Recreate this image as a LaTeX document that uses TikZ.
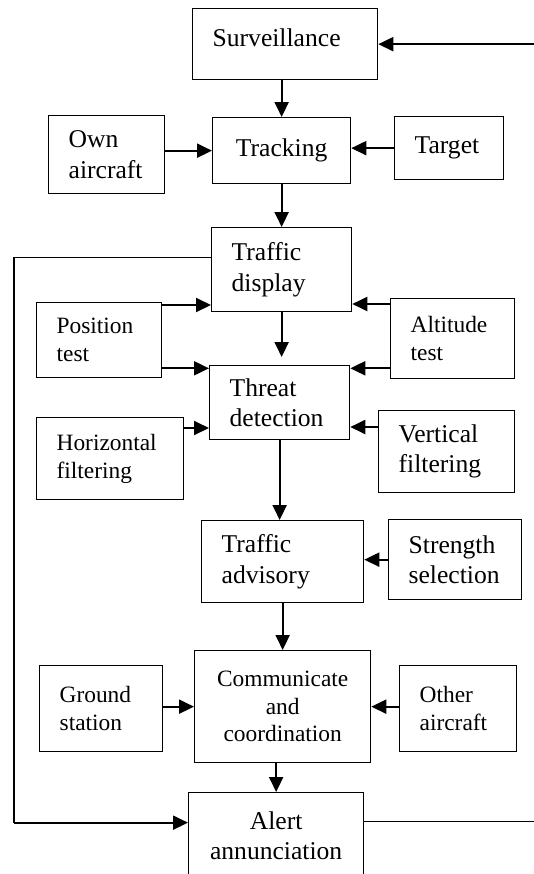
\documentclass[tikz,border=0pt]{standalone}
\usepackage{fontspec}
\setmainfont{Liberation Serif}
\usetikzlibrary{arrows.meta, calc}

\begin{document}
\begin{tikzpicture}[x=0.5pt, y=-0.5pt,
		box/.style={draw, line width=0.65pt, anchor=north west, inner xsep=10pt, inner ysep=0pt, align=left},
		big/.style={font=\fontsize{12.8}{15.2}\selectfont},
		small/.style={font=\fontsize{11.7}{13.8}\selectfont},
		arr/.style={line width=1pt, -{Triangle[length=7.5pt,width=7pt]}},
		wire/.style={line width=0.65pt}]
	
	\useasboundingbox (0,0) rectangle (534,874);
	\coordinate (lft) at (14,0);
	\coordinate (rgt) at (534,0);
	
	% main chain
	\node[box, big, text width=72.5pt, minimum height=35.5pt, text depth=7pt] (sur) at (192,8) {Surveillance};
	\node[box, big, align=center, text width=49pt, minimum height=33pt] (trk) at (212,117) {Tracking};
	\node[box, big, text width=50pt, minimum height=42pt] (tdp) at (211,227) {Traffic\\display};
	\node[box, big, text width=50pt, minimum height=37pt] (thr) at (209,365) {Threat\\detection};
	\node[box, big, text width=61pt, minimum height=41pt] (adv) at (201,520) {Traffic\\advisory};
	\node[box, small, align=center, text width=68pt, minimum height=56pt] (com) at (194,650) {Communicate\\and\\coordination};
	\node[box, big, align=center, text width=67.5pt, minimum height=43pt] (ale) at (188,792) {Alert\\annunciation};
	
	% inputs
	\node[box, big, text width=38pt, minimum height=39pt] (own) at (48,115) {Own\\aircraft};
	\node[box, big, text width=34.5pt, minimum height=31.5pt] (tgt) at (394,116) {Target};
	\node[box, small, text width=42.5pt, minimum height=37.5pt] (pos) at (36,302) {Position\\test};
	\node[box, small, text width=42pt, minimum height=40pt] (alt) at (390,298) {Altitude\\test};
	\node[box, small, text width=53.5pt, minimum height=41pt] (hor) at (36,417) {Horizontal\\filtering};
	\node[box, big, text width=48pt, minimum height=41pt] (ver) at (378,410) {Vertical\\filtering};
	\node[box, big, text width=46.5pt, minimum height=40pt] (str) at (388,519) {Strength\\selection};
	\node[box, small, text width=41.5pt, minimum height=43pt] (gnd) at (39,665) {Ground\\station};
	\node[box, small, text width=38.5pt, minimum height=43pt] (oth) at (399,665) {Other\\aircraft};
	
	\coordinate (p1) at ([yshift=-1.5pt]pos.north east);
	\coordinate (p2) at ([yshift=5pt]pos.south east);
	\coordinate (a1) at ([yshift=-3pt]alt.north west);
	\coordinate (a2) at ([yshift=5.5pt]alt.south west);
	\coordinate (h1) at ([yshift=-5.5pt]hor.north east);
	\coordinate (v1) at ([yshift=-8.5pt]ver.north west);
	\coordinate (fb) at ([yshift=6pt]tdp.west);
	\coordinate (ain) at ([yshift=6.5pt]ale.west);
	\coordinate (aout) at ([yshift=7pt]ale.east);
	
	\draw[arr] (rgt |- sur.east) -- (sur.east);
	\draw[arr] (sur.south -| trk.north) -- (trk.north);
	\draw[arr] (own.east |- trk.west) -- (trk.west);
	\draw[arr] (tgt.west) -- (tgt.west -| trk.east);
	\draw[arr] (trk.south) -- (trk.south |- tdp.north);
	\draw[arr] (p1) -- (p1 -| tdp.west);
	\draw[arr] (p2) -- (p2 -| thr.west);
	\draw[arr] (a1) -- (a1 -| tdp.east);
	\draw[arr] (a2) -- (a2 -| thr.east);
	\draw[arr, shorten >=4pt] (tdp.south) -- (tdp.south |- thr.north);
	\draw[arr] (h1) -- (h1 -| thr.west);
	\draw[arr] (v1) -- (v1 -| thr.east);
	\draw[arr] (thr.south) -- (thr.south |- adv.north);
	\draw[arr] (str.west) -- (str.west -| adv.east);
	\draw[arr] (adv.south) -- (adv.south |- com.north);
	\draw[arr] (gnd.east |- com.west) -- (com.west);
	\draw[arr] (oth.west |- com.east) -- (com.east);
	\draw[arr] (ale.north |- com.south) -- (ale.north);
	
	% feedback loop
	\draw[wire] (fb) -| (lft |- ain);
	\draw[arr] (lft |- ain) -- (ain);
	\draw[wire] (aout) -- (aout -| rgt);
\end{tikzpicture}
\end{document}
